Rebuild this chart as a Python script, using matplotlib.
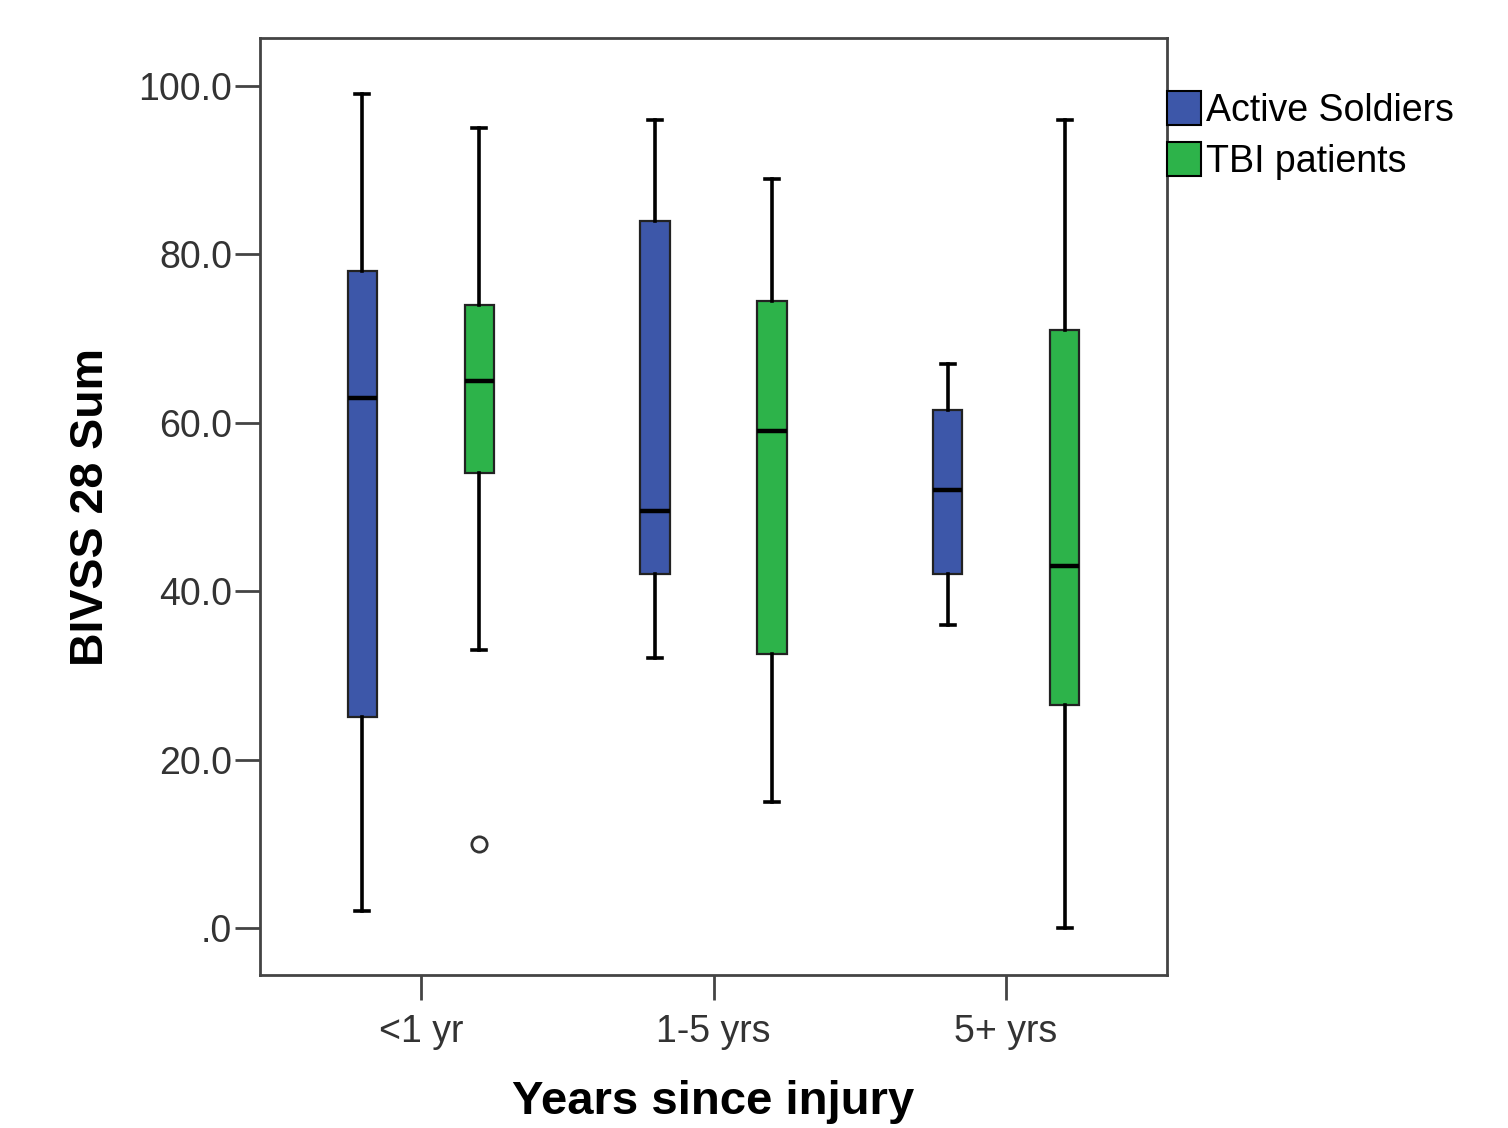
import matplotlib
matplotlib.use("Agg")
import matplotlib.pyplot as plt
from matplotlib.patches import Patch

plt.rcParams['font.family'] = ['Liberation Sans', 'DejaVu Sans']

categories = ["<1 yr", "1-5 yrs", "5+ yrs"]
groups = ["Active Soldiers", "TBI patients"]
colors = ["#3D57A9", "#2DB34A"]

# per group, per category: whisker low, Q1, median, Q3, whisker high
active_low = [2.0, 32.0, 36.0]
active_q1 = [25.0, 42.0, 42.0]
active_med = [63.0, 49.5, 52.0]
active_q3 = [78.0, 84.0, 61.5]
active_high = [99.0, 96.0, 67.0]
active_out = [[], [], []]

tbi_low = [33.0, 15.0, 0.0]
tbi_q1 = [54.0, 32.5, 26.5]
tbi_med = [65.0, 59.0, 43.0]
tbi_q3 = [74.0, 74.5, 71.0]
tbi_high = [95.0, 89.0, 96.0]
tbi_out = [[10.0], [], []]

yticks = [0, 20, 40, 60, 80, 100]
ytick_labels = [".0", "20.0", "40.0", "60.0", "80.0", "100.0"]

fig = plt.figure(figsize=(15.08, 11.28), dpi=100)
ax = fig.add_axes([0.1724, 0.1356, 0.6015, 0.8307])

series = [
    (active_low, active_q1, active_med, active_q3, active_high, active_out),
    (tbi_low, tbi_q1, tbi_med, tbi_q3, tbi_high, tbi_out),
]
offsets = [-0.2, 0.2]
for gi, (lo, q1, med, q3, hi, out) in enumerate(series):
    stats = []
    for i in range(len(categories)):
        stats.append(dict(whislo=lo[i], q1=q1[i], med=med[i], q3=q3[i],
                          whishi=hi[i], fliers=out[i]))
    pos = [i + offsets[gi] for i in range(len(categories))]
    ax.bxp(stats, positions=pos, widths=0.1, patch_artist=True,
           showfliers=True, manage_ticks=False,
           boxprops=dict(facecolor=colors[gi], edgecolor='#222222', linewidth=1.6),
           medianprops=dict(color='black', linewidth=3.2),
           whiskerprops=dict(color='black', linewidth=2.6),
           capprops=dict(color='black', linewidth=2.6),
           capwidths=0.048,
           flierprops=dict(marker='o', markerfacecolor='white',
                           markeredgecolor='#333333', markersize=11,
                           markeredgewidth=2))

ax.set_xlim(-0.55, 2.55)
ax.set_ylim(-5.6, 105.7)
ax.set_xticks(range(len(categories)))
ax.set_xticklabels(categories)
ax.set_yticks(yticks)
ax.set_yticklabels(ytick_labels)

for s in ax.spines.values():
    s.set_color('#444444')
    s.set_linewidth(2)
ax.tick_params(axis='both', colors='#444444', length=18, width=2,
               labelsize=27, labelcolor='#333333')
ax.tick_params(axis='x', pad=10)
ax.tick_params(axis='y', pad=2)

ax.set_xlabel("Years since injury", fontsize=34, fontweight='bold', labelpad=22)
ax.set_ylabel("BIVSS 28 Sum", fontsize=33.5, fontweight='bold', labelpad=18)

handles = [Patch(facecolor=colors[i], edgecolor='black', linewidth=1.5,
                 label=groups[i]) for i in range(len(groups))]
ax.legend(handles=handles, loc='upper left', bbox_to_anchor=(1.0, 0.943),
          frameon=False, fontsize=27, borderaxespad=0, borderpad=0,
          handlelength=0.9, handleheight=1.0, handletextpad=0.15,
          labelspacing=0.35)

fig.savefig("out.png", dpi=100)
